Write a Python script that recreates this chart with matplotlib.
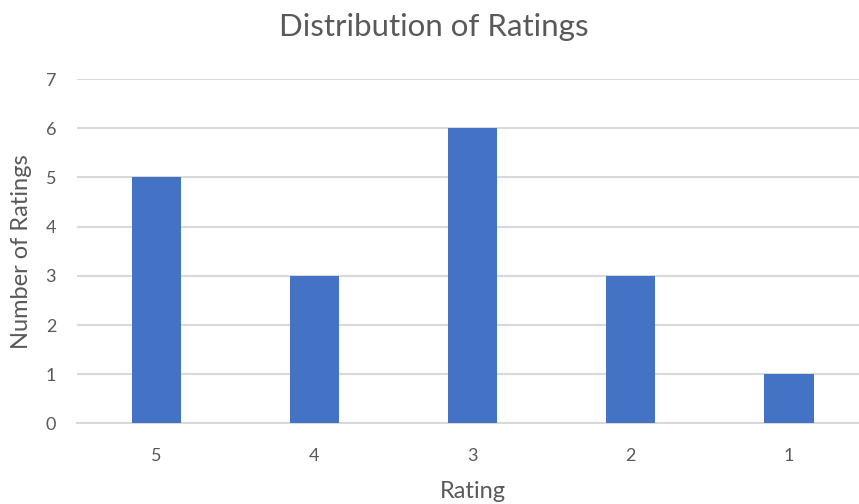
import matplotlib
matplotlib.use("Agg")
import matplotlib.pyplot as plt

ratings = ["5", "4", "3", "2", "1"]
counts = [5, 3, 6, 3, 1]

plt.rcParams['font.family'] = ['Lato', 'DejaVu Sans']
txt = '#595959'

fig = plt.figure(figsize=(8.59, 5.04), dpi=100)
ax = fig.add_axes([0.0896, 0.160, 0.921, 0.683])
x = list(range(len(ratings)))
ax.bar(x, counts, width=0.31, color='#4472C4', zorder=3)
ax.set_xlim(-0.5, len(ratings) - 0.5)
ax.set_ylim(0, 7)
ax.set_yticks(range(0, 8))
ax.set_xticks(x)
ax.set_xticklabels(ratings)
ax.grid(axis='y', color='#D9D9D9', linewidth=1.5, zorder=0)
for s in ['top', 'right', 'left']:
    ax.spines[s].set_visible(False)
ax.spines['bottom'].set_color('#D9D9D9')
ax.spines['bottom'].set_linewidth(1.5)
ax.tick_params(axis='y', length=0, colors=txt, labelsize=13, pad=15)
ax.tick_params(axis='x', length=0, colors=txt, labelsize=13, pad=18)
ax.set_xlabel('Rating', color=txt, fontsize=17, va='center')
ax.xaxis.set_label_coords(0.5, -0.199)
ax.set_ylabel('Number of Ratings', color=txt, fontsize=17, va='center')
ax.yaxis.set_label_coords(-0.0705, 0.5)
fig.text(0.505, 1 - 27 / 504, 'Distribution of Ratings', color=txt, fontsize=22.5,
         ha='center', va='center')
fig.savefig('out.png', dpi=100)
